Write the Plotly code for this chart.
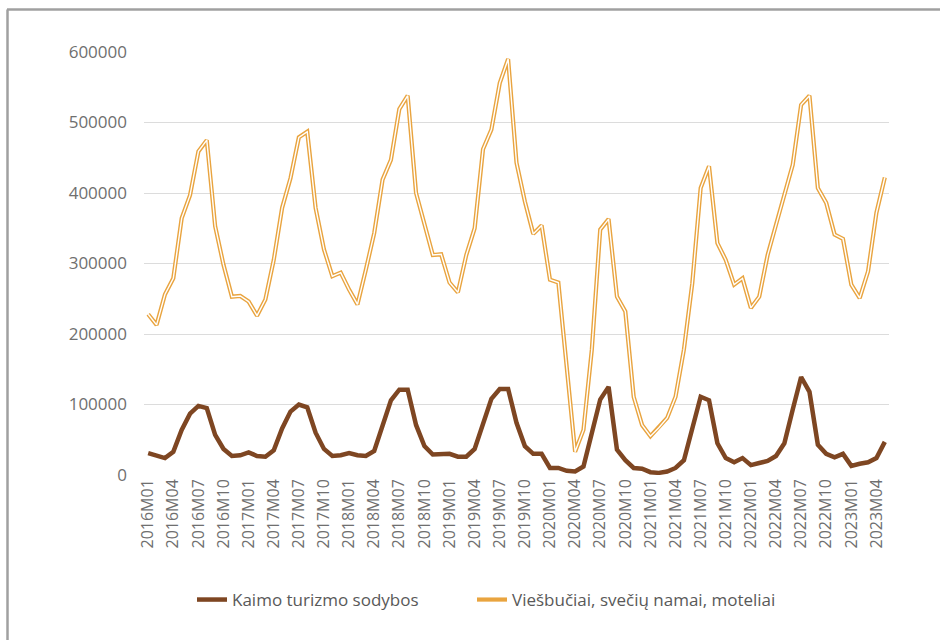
import plotly.graph_objects as go

years = list(range(2016, 2024))
months = [f"{y}M{m:02d}" for y in years for m in range(1, 13)][:89]  # 2016M01 .. 2023M05

kaimo = [31000, 27000, 24000, 33000, 64000, 87000, 98000, 95000, 57000, 37000, 27000, 28000,
         32000, 27000, 26000, 35000, 66000, 90000, 100000, 96000, 60000, 37000, 27000, 28000,
         31000, 28000, 27000, 34000, 70000, 106000, 121000, 121000, 71000, 41000, 29000, 30000,
         30000, 26000, 26000, 37000, 74000, 108000, 122000, 122000, 74000, 41000, 30000, 30000,
         10000, 10000, 6000, 5000, 12000, 60000, 107000, 125000, 36000, 21000, 10000, 9000,
         4000, 3000, 5000, 10000, 21000, 66000, 111000, 106000, 45000, 24000, 18000, 24000,
         14000, 17000, 20000, 27000, 45000, 93000, 139000, 118000, 43000, 30000, 25000, 30000,
         13000, 16000, 18000, 24000, 47000]

viesbuciai = [228000, 213000, 256000, 279000, 364000, 397000, 459000, 475000, 353000, 298000, 253000, 254000,
              246000, 226000, 249000, 305000, 379000, 421000, 479000, 487000, 379000, 320000, 282000, 287000,
              263000, 242000, 291000, 343000, 419000, 447000, 519000, 538000, 400000, 357000, 312000, 313000,
              273000, 259000, 312000, 350000, 462000, 490000, 556000, 590000, 443000, 388000, 342000, 354000,
              277000, 273000, 150000, 33000, 64000, 178000, 348000, 363000, 253000, 232000, 111000, 71000,
              55000, 67000, 81000, 111000, 178000, 272000, 407000, 438000, 329000, 305000, 270000, 279000,
              237000, 253000, 312000, 355000, 400000, 440000, 525000, 538000, 407000, 386000, 341000, 335000,
              270000, 251000, 289000, 372000, 422000]

tick_labels = months[::3]
y_ticks = [0, 100000, 200000, 300000, 400000, 500000, 600000]

name_k = "Kaimo turizmo sodybos"
name_v = "Viešbučiai, svečių namai, moteliai"

brown = "#7E4622"
orange = "#E9A43F"
gray_text = "#6F6F6F"

fig = go.Figure()
fig.add_trace(go.Scatter(x=months, y=kaimo, mode="lines", name=name_k,
                         legend="legend",
                         line=dict(color=brown, width=4.5)))
fig.add_trace(go.Scatter(x=months, y=viesbuciai, mode="lines", name=name_v,
                         legend="legend2", legendgroup="v",
                         line=dict(color=orange, width=4.2)))
fig.add_trace(go.Scatter(x=months, y=viesbuciai, mode="lines", name=name_v,
                         legend="legend2", legendgroup="v", showlegend=False, hoverinfo="skip",
                         line=dict(color="white", width=1.4)))

W, H = 940, 640
L, R, T, B = 144, 51, 52, 165
pw, ph = W - L - R, H - T - B

def px_x(x):
    return (x - L) / pw

def px_y(y):
    return (H - B - y) / ph

legend_font = dict(size=17, color="#595959")

fig.update_layout(
    width=W, height=H,
    margin=dict(l=L, r=R, t=T, b=B),
    paper_bgcolor="white", plot_bgcolor="white",
    font=dict(family="Open Sans", color=gray_text, size=16),
    showlegend=True,
    legend=dict(orientation="h", x=px_x(192), xanchor="left", y=px_y(600), yanchor="middle",
                font=legend_font),
    legend2=dict(orientation="h", x=px_x(472), xanchor="left", y=px_y(600), yanchor="middle",
                 font=legend_font),
    xaxis=dict(type="category", range=[-0.5, 88.5], tickmode="array",
               tickvals=tick_labels, ticktext=tick_labels, tickangle=-90,
               showgrid=False, showline=False, zeroline=False, ticks="",
               tickfont=dict(size=16, color=gray_text)),
    yaxis=dict(range=[0, 600000], tickvals=y_ticks, tickformat="d",
               showgrid=True, gridcolor="#DCDCDC", gridwidth=1.3,
               zeroline=False, showline=False, ticks="",
               ticklabelstandoff=16,
               tickfont=dict(size=17, color=gray_text)),
    shapes=[
        dict(type="line", xref="paper", yref="paper",
             x0=px_x(7), x1=px_x(945), y0=px_y(9.5), y1=px_y(9.5),
             line=dict(color="#A0A0A0", width=2.5)),
        dict(type="line", xref="paper", yref="paper",
             x0=px_x(7.5), x1=px_x(7.5), y0=px_y(9.5), y1=px_y(645),
             line=dict(color="#A0A0A0", width=2.5)),
    ],
)

fig.write_html("out.html",
               config={"displayModeBar": False},
               post_script="document.body.style.margin='0';document.body.style.overflow='hidden';")
